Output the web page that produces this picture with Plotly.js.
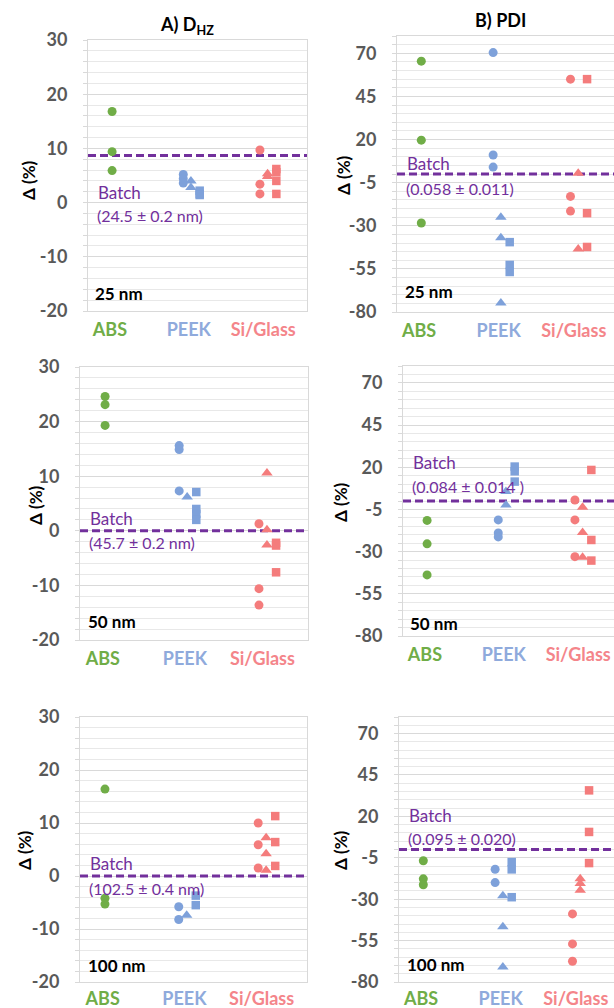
<!DOCTYPE html>
<html>
<head>
<meta charset="utf-8">
<script src="https://cdn.plot.ly/plotly-3.0.1.min.js"></script>
<style>
html,body{margin:0;padding:0;overflow:hidden;background:#fff;}
#chart{width:622px;height:1008px;}
</style>
</head>
<body>
<div id="chart"></div>
<script>
// ---------------- DATA ----------------
const categories = ['ABS', 'PEEK', 'Si/Glass'];
const panelTitles = ['A) D<sub>HZ</sub>', 'B) PDI'];
const sizeLabels = ['25 nm', '50 nm', '100 nm'];
const dhzTicks = [-20, -10, 0, 10, 20, 30];
const pdiTicks = [-80, -55, -30, -5, 20, 45, 70];

// D_HZ, 25 nm (Δ %)
const dhz25_batch = 8.7;
const dhz25_batchText = '(24.5 ± 0.2 nm)';
const dhz25_ABS_circle = [16.8, 9.4, 5.9];
const dhz25_PEEK_circle = [5.2, 4.4, 3.6];
const dhz25_PEEK_triangle = [4.0, 2.8];
const dhz25_PEEK_square = [2.2, 1.6, 1.4];
const dhz25_Si_circle = [9.7, 3.4, 1.6];
const dhz25_Si_triangle = [5.3, 4.8];
const dhz25_Si_square = [6.2, 5.6, 4.0, 1.6];

// PDI, 25 nm
const pdi25_batch = 0;
const pdi25_batchText = '(0.058 ± 0.011)';
const pdi25_ABS_circle = [65.4, 19.6, -28.4];
const pdi25_PEEK_circle = [70.4, 11, 4];
const pdi25_PEEK_triangle = [-25, -37, -74.8];
const pdi25_PEEK_square = [-39.5, -52.7, -56.8];
const pdi25_Si_circle = [55, -13, -21.5];
const pdi25_Si_triangle = [0.5, -43.5];
const pdi25_Si_square = [55, -22.7, -42.3];

// D_HZ, 50 nm
const dhz50_batch = 0;
const dhz50_batchText = '(45.7 ± 0.2 nm)';
const dhz50_ABS_circle = [24.6, 23.1, 19.3];
const dhz50_PEEK_circle = [15.6, 14.9, 7.3];
const dhz50_PEEK_triangle = [6.2];
const dhz50_PEEK_square = [7.1, 4.0, 3.1, 2.0];
const dhz50_Si_circle = [1.3, -10.6, -13.6];
const dhz50_Si_triangle = [10.6, 0.2, -2.6];
const dhz50_Si_square = [-2.2, -2.7, -7.6];

// PDI, 50 nm
const pdi50_batch = 0;
const pdi50_batchText = '(0.084 ± 0.014 )';
const pdi50_ABS_circle = [-11.5, -25.4, -43.8];
const pdi50_PEEK_circle = [-11.2, -18.9, -21.3];
const pdi50_PEEK_triangle = [5.6, -2.3];
const pdi50_PEEK_square = [20.4, 17.6, 11.5];
const pdi50_Si_circle = [0.6, -11.2, -33];
const pdi50_Si_triangle = [-3.7, -18.7, -33.4];
const pdi50_Si_square = [18.4, -23.1, -35.3];

// D_HZ, 100 nm
const dhz100_batch = 0;
const dhz100_batchText = '(102.5 ± 0.4 nm)';
const dhz100_ABS_circle = [16.4, -4.2, -5.3];
const dhz100_PEEK_circle = [-5.8, -8.2];
const dhz100_PEEK_triangle = [-7.4];
const dhz100_PEEK_square = [-3.7, -5.5];
const dhz100_Si_circle = [10.0, 5.9, 1.5];
const dhz100_Si_triangle = [7.2, 4.2, 1.1];
const dhz100_Si_square = [11.3, 6.4, 1.9];

// PDI, 100 nm
const pdi100_batch = 0;
const pdi100_batchText = '(0.095 ± 0.020)';
const pdi100_ABS_circle = [-6.8, -17.7, -21.3];
const pdi100_PEEK_circle = [-11.9, -20.0];
const pdi100_PEEK_triangle = [-28, -46.6, -70.9];
const pdi100_PEEK_square = [-7.6, -12.0, -28.8];
const pdi100_Si_circle = [-38.9, -57.0, -67.5];
const pdi100_Si_triangle = [-17.7, -20.6, -24.6];
const pdi100_Si_square = [35.7, 10.6, -8.2];

// ---------------- STYLE / LAYOUT ----------------
const W = 622, H = 1008;
const COLORS = {ABS: '#70AD47', PEEK: '#7EA1DA', Si: '#F47C7C'};
const LABEL_COLORS = {ABS: '#70AD47', PEEK: '#8FAADC', Si: '#F4858A'};
const PURPLE = '#72309C';
const FONT = 'Lato, "Open Sans", "DejaVu Sans", sans-serif';
const catX = {ABS: 1.1, PEEK: 4.35, Si: 7.85};
const shapeOffset = {circle: 0, 'triangle-up': 0.35, square: 0.75};
const shapeSize = {circle: 9, 'triangle-up': 10, square: 8.5};

const panels = [
  {kind: 'dhz', row: 0, col: 0, batch: dhz25_batch, text: dhz25_batchText,
   sets: [['ABS','circle',dhz25_ABS_circle],['PEEK','circle',dhz25_PEEK_circle],['PEEK','triangle-up',dhz25_PEEK_triangle],['PEEK','square',dhz25_PEEK_square],['Si','circle',dhz25_Si_circle],['Si','triangle-up',dhz25_Si_triangle],['Si','square',dhz25_Si_square]],
   px: [88, 307], py: [40, 311], by: [1.8, -2.4], sy: -16.8},
  {kind: 'pdi', row: 0, col: 1, batch: pdi25_batch, text: pdi25_batchText,
   sets: [['ABS','circle',pdi25_ABS_circle],['PEEK','circle',pdi25_PEEK_circle],['PEEK','triangle-up',pdi25_PEEK_triangle],['PEEK','square',pdi25_PEEK_square],['Si','circle',pdi25_Si_circle],['Si','triangle-up',pdi25_Si_triangle],['Si','square',pdi25_Si_square]],
   px: [397, 618], py: [36, 312], by: [6.3, -8.2], sy: -68.4},
  {kind: 'dhz', row: 1, col: 0, batch: dhz50_batch, text: dhz50_batchText,
   sets: [['ABS','circle',dhz50_ABS_circle],['PEEK','circle',dhz50_PEEK_circle],['PEEK','triangle-up',dhz50_PEEK_triangle],['PEEK','square',dhz50_PEEK_square],['Si','circle',dhz50_Si_circle],['Si','triangle-up',dhz50_Si_triangle],['Si','square',dhz50_Si_square]],
   px: [80, 308], py: [367, 640], by: [2.2, -2.2], sy: -16.7},
  {kind: 'pdi', row: 1, col: 1, batch: pdi50_batch, text: pdi50_batchText,
   sets: [['ABS','circle',pdi50_ABS_circle],['PEEK','circle',pdi50_PEEK_circle],['PEEK','triangle-up',pdi50_PEEK_triangle],['PEEK','square',pdi50_PEEK_square],['Si','circle',pdi50_Si_circle],['Si','triangle-up',pdi50_Si_triangle],['Si','square',pdi50_Si_square]],
   px: [403, 622], py: [366, 636], by: [22.6, 8.4], sy: -72.3},
  {kind: 'dhz', row: 2, col: 0, batch: dhz100_batch, text: dhz100_batchText,
   sets: [['ABS','circle',dhz100_ABS_circle],['PEEK','circle',dhz100_PEEK_circle],['PEEK','triangle-up',dhz100_PEEK_triangle],['PEEK','square',dhz100_PEEK_square],['Si','circle',dhz100_Si_circle],['Si','triangle-up',dhz100_Si_triangle],['Si','square',dhz100_Si_square]],
   px: [80, 307], py: [717, 982], by: [2.3, -2.3], sy: -16.8},
  {kind: 'pdi', row: 2, col: 1, batch: pdi100_batch, text: pdi100_batchText,
   sets: [['ABS','circle',pdi100_ABS_circle],['PEEK','circle',pdi100_PEEK_circle],['PEEK','triangle-up',pdi100_PEEK_triangle],['PEEK','square',pdi100_PEEK_square],['Si','circle',pdi100_Si_circle],['Si','triangle-up',pdi100_Si_triangle],['Si','square',pdi100_Si_square]],
   px: [399, 620], py: [717, 982], by: [20.4, 6.5], sy: -69.7}
];

const traces = [];
const layout = {
  width: W, height: H, margin: {l: 0, r: 0, t: 0, b: 0},
  paper_bgcolor: '#fff', plot_bgcolor: '#fff', showlegend: false,
  font: {family: FONT}, annotations: []
};

const tickText = [
  '<span style="color:' + LABEL_COLORS.ABS + '">' + categories[0] + '</span>',
  '<span style="color:' + LABEL_COLORS.PEEK + '">' + categories[1] + '</span>',
  '<span style="color:' + LABEL_COLORS.Si + '">' + categories[2] + '</span>'
];

panels.forEach((p, i) => {
  const n = i + 1;
  const xa = 'x' + (n === 1 ? '' : n), ya = 'y' + (n === 1 ? '' : n);
  const xk = 'xaxis' + (n === 1 ? '' : n), yk = 'yaxis' + (n === 1 ? '' : n);
  const isD = p.kind === 'dhz';
  const yt = isD ? dhzTicks : pdiTicks;
  layout[xk] = {
    domain: [p.px[0] / W, Math.min(1, p.px[1] / W)], anchor: ya,
    range: [0, 10], showgrid: false, zeroline: false,
    showline: true, mirror: true, linecolor: '#D9D9D9', linewidth: 1,
    tickmode: 'array', tickvals: [1.0, 4.6, 8.0], ticktext: tickText,
    ticks: '', ticklabelstandoff: p.row === 2 ? 0 : 2,
    tickfont: {family: FONT, size: 18, weight: 'bold', color: '#595959'}
  };
  layout[yk] = {
    domain: [1 - p.py[1] / H, 1 - p.py[0] / H], anchor: xa,
    range: isD ? [-20, 30] : [-80, 80],
    tickmode: 'array', tickvals: yt, ticktext: yt.map(v => String(v)),
    showgrid: true, gridcolor: '#D9D9D9', gridwidth: 1, zeroline: false,
    showline: true, mirror: true, linecolor: '#D9D9D9', linewidth: 1,
    ticks: 'outside', ticklen: 4, tickcolor: '#D9D9D9', ticklabelstandoff: 12,
    minor: {tick0: isD ? -20 : -80, dtick: isD ? 2 : 5, showgrid: true, gridcolor: '#E8E8E8', gridwidth: 1,
            ticks: 'outside', ticklen: 4, tickcolor: '#D9D9D9'},
    tickfont: {family: FONT, size: 18, weight: 'bold', color: '#595959'}
  };
  traces.push({
    x: [0, 10], y: [p.batch, p.batch], xaxis: xa, yaxis: ya, mode: 'lines',
    line: {color: PURPLE, width: 3, dash: '8px,4px'}, hoverinfo: 'skip'
  });
  p.sets.forEach(([mat, shape, vals]) => {
    const xv = catX[mat] + shapeOffset[shape];
    traces.push({
      x: vals.map(() => xv), y: vals, xaxis: xa, yaxis: ya, mode: 'markers',
      name: mat, marker: {symbol: shape, size: shapeSize[shape], color: COLORS[mat], line: {width: 0}}
    });
  });
  layout.annotations.push(
    {xref: xa + ' domain', yref: ya, x: 0.035, y: p.by[0], xanchor: 'left', yanchor: 'middle',
     text: 'Batch', showarrow: false, font: {family: FONT, size: 17, color: PURPLE}},
    {xref: xa + ' domain', yref: ya, x: 0.03, y: p.by[1], xanchor: 'left', yanchor: 'middle',
     text: p.text, showarrow: false, font: {family: FONT, size: 16, color: PURPLE}},
    {xref: xa + ' domain', yref: ya, x: 0.025, y: p.sy, xanchor: 'left', yanchor: 'middle',
     text: sizeLabels[p.row], showarrow: false, font: {family: FONT, size: 17, weight: 'bold', color: '#000'}}
  );
});

layout.annotations.push(
  {xref: 'paper', yref: 'paper', x: 187 / W, y: 1 - 25 / H, text: '<b>' + panelTitles[0] + '</b>', showarrow: false,
   font: {family: FONT, size: 18, color: '#000'}, xanchor: 'center', yanchor: 'middle'},
  {xref: 'paper', yref: 'paper', x: 501 / W, y: 1 - 20 / H, text: '<b>' + panelTitles[1] + '</b>', showarrow: false,
   font: {family: FONT, size: 18, color: '#000'}, xanchor: 'center', yanchor: 'middle'}
);
const yTitlePos = [[28, 180], [343, 175], [35, 505], [340, 502], [24, 850], [340, 850]];
yTitlePos.forEach(([x, y]) => {
  layout.annotations.push({xref: 'paper', yref: 'paper', x: x / W, y: 1 - y / H, text: '<b>Δ (%)</b>',
    textangle: -90, showarrow: false, font: {family: FONT, size: 17, color: '#000'}, xanchor: 'center', yanchor: 'middle'});
});

Plotly.newPlot('chart', traces, layout, {displayModeBar: false, staticPlot: true});
</script>
</body>
</html>
